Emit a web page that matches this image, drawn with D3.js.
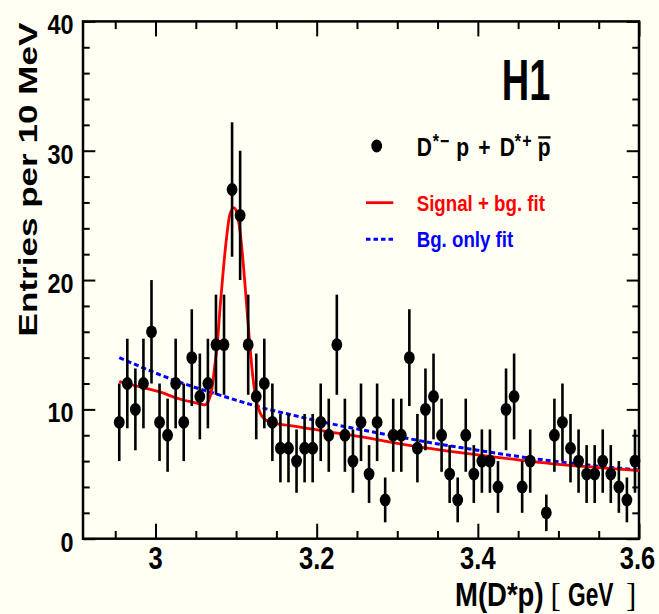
<!DOCTYPE html>
<html>
<head>
<meta charset="utf-8">
<script src="https://cdn.jsdelivr.net/npm/d3@7"></script>
<style>
body { margin: 0; background: #fffff3; }
</style>
</head>
<body>
<div id="canvas"></div>
<script>
"use strict"

// bin centres in GeV (10 MeV bins) and entries per bin
let binCentres = [2.955, 2.965, 2.975, 2.985, 2.995, 3.005, 3.015, 3.025, 3.035, 3.045,
    3.055, 3.065, 3.075, 3.085, 3.095, 3.105, 3.115, 3.125, 3.135, 3.145,
    3.155, 3.165, 3.175, 3.185, 3.195, 3.205, 3.215, 3.225, 3.235, 3.245,
    3.255, 3.265, 3.275, 3.285, 3.295, 3.305, 3.315, 3.325, 3.335, 3.345,
    3.355, 3.365, 3.375, 3.385, 3.395, 3.405, 3.415, 3.425, 3.435, 3.445,
    3.455, 3.465, 3.475, 3.485, 3.495, 3.505, 3.515, 3.525, 3.535, 3.545,
    3.555, 3.565, 3.575, 3.585, 3.595];
let entries = [9, 12, 10, 12, 16, 9, 8, 12, 9, 14,
    11, 12, 15, 15, 27, 25, 15, 11, 12, 9,
    7, 7, 6, 7, 7, 9, 8, 15, 8, 6,
    9, 5, 9, 3, 8, 8, 14, 7, 10, 11,
    8, 5, 3, 8, 5, 6, 6, 4, 10, 11,
    4, 6, 0, 2, 8, 9, 7, 6, 5, 5,
    6, 5, 4, 3, 6];

// signal + background fit (red)
let sigFitX = [2.955, 2.98, 3.005, 3.03, 3.05, 3.061, 3.066, 3.070, 3.073, 3.077,
    3.080, 3.084, 3.088, 3.092, 3.097, 3.101, 3.105, 3.109, 3.113, 3.117,
    3.121, 3.125, 3.130, 3.135, 3.145, 3.167, 3.213, 3.254, 3.317, 3.378,
    3.45, 3.5, 3.55, 3.6];
let sigFitY = [12.15, 11.75, 11.35, 10.8, 10.5, 10.35, 10.7, 11.6, 13.1, 15.3,
    17.8, 20.7, 23.2, 25.0, 25.6, 25.2, 23.7, 21.2, 18.1, 15.0,
    12.4, 10.7, 9.7, 9.25, 8.95, 8.75, 8.28, 7.89, 7.19, 6.65,
    6.1, 5.75, 5.5, 5.26];

// background only fit (blue dashed)
let bgFitX = [2.955, 3.03, 3.08, 3.128, 3.167, 3.213, 3.296, 3.353, 3.378, 3.478, 3.6];
let bgFitY = [14.0, 12.1, 11.1, 10.2, 9.6, 8.95, 7.95, 7.3, 7.05, 6.12, 5.3];

let xMajorTicks = [3.0, 3.2, 3.4, 3.6];
let xTickLabels = ["3", "3.2", "3.4", "3.6"];
let yMajorTicks = [0, 10, 20, 30, 40];
let yTickLabels = ["0", "10", "20", "30", "40"];

let legendLabels = ["Signal + bg. fit", "Bg. only fit"];

let W = 659, H = 614;
let font = "'Liberation Sans', Arial, sans-serif";
let serif = "'Liberation Serif', serif";

let drawing = d3.select("#canvas")
    .append("svg")
    .attr("width", W)
    .attr("height", H);

drawing.append("rect")
    .attr("width", W)
    .attr("height", H)
    .attr("fill", "#fffff3");

let x = d3.scaleLinear().domain([2.91, 3.6]).range([83, 639]);
let y = d3.scaleLinear().domain([0, 40]).range([538.7, 21.4]);

// minor + major ticks on all four sides, pointing inwards
let xMinor = d3.range(2.95, 3.6001, 0.05).filter(v => !xMajorTicks.some(m => Math.abs(m - v) < 1e-6));
let yMinor = d3.range(0, 40.001, 2).filter(v => v % 10 !== 0);

function tickAxis(axis, tx, ty) {
    let g = drawing.append("g")
        .attr("transform", "translate(" + tx + "," + ty + ")")
        .call(axis);
    g.select(".domain").remove();
    g.selectAll("text").remove();
    g.selectAll("line").attr("stroke", "black").attr("stroke-width", 2);
    return g;
}

tickAxis(d3.axisBottom(x).tickValues(xMinor).tickSize(-7.7), 0, y(0));
tickAxis(d3.axisBottom(x).tickValues(xMajorTicks).tickSize(-15), 0, y(0));
tickAxis(d3.axisTop(x).tickValues(xMinor).tickSize(-7.7), 0, y(40));
tickAxis(d3.axisTop(x).tickValues(xMajorTicks).tickSize(-15), 0, y(40));
tickAxis(d3.axisLeft(y).tickValues(yMinor).tickSize(-6.7), x(2.91), 0);
tickAxis(d3.axisLeft(y).tickValues(yMajorTicks).tickSize(-12.3), x(2.91), 0);
tickAxis(d3.axisRight(y).tickValues(yMinor).tickSize(-6.7), x(3.6), 0);
tickAxis(d3.axisRight(y).tickValues(yMajorTicks).tickSize(-12.3), x(3.6), 0);

// frame
drawing.append("rect")
    .attr("x", x(2.91))
    .attr("y", y(40))
    .attr("width", x(3.6) - x(2.91))
    .attr("height", y(0) - y(40))
    .attr("fill", "none")
    .attr("stroke", "black")
    .attr("stroke-width", 2.5);

// the original lettering is tall and narrow: draw at the width-matching size
// and stretch it vertically
function label(parent, txt, px, py, size, sy, anchor, colour, family, weight) {
    return parent.append("text")
        .attr("transform", "translate(" + px + "," + py + ") scale(1," + sy + ")")
        .attr("text-anchor", anchor || "start")
        .attr("fill", colour || "black")
        .attr("font-family", family || font)
        .attr("font-weight", weight || "bold")
        .attr("font-size", size)
        .text(txt);
}

// tick labels
xMajorTicks.forEach((v, i) => {
    label(drawing, xTickLabels[i], i === xMajorTicks.length - 1 ? x(v) - 1.5 : x(v), 569, 25.5, 1.22, "middle");
});
yMajorTicks.forEach((v, i) => {
    label(drawing, yTickLabels[i], 73.5, y(v) + 12.8, 23.4, 1.2, "end");
});

// x axis title, brackets in a thin serif face as in the original
label(drawing, "M(D*p)", 455, 606, 27.5, 1.2);
label(drawing, "[", 550.5, 606, 31, 1.08, "start", "black", serif, "normal");
label(drawing, "GeV", 568, 606, 22.75, 1.45);
label(drawing, "]", 626, 606, 31, 1.08, "start", "black", serif, "normal");

drawing.append("text")
    .attr("transform", "translate(36.7,22.7) rotate(-90) scale(1.37,1)")
    .attr("text-anchor", "end")
    .attr("font-family", font)
    .attr("font-weight", "bold")
    .attr("font-size", 25.6)
    .text("Entries per 10 MeV");

// fits
let fitLine = d3.line()
    .x(d => x(d[0]))
    .y(d => y(d[1]))
    .curve(d3.curveMonotoneX);

drawing.append("path")
    .attr("d", fitLine(bgFitX.map((v, i) => [v, bgFitY[i]])))
    .attr("fill", "none")
    .attr("stroke", "#0000ff")
    .attr("stroke-width", 3)
    .attr("stroke-dasharray", "5,3");

drawing.append("path")
    .attr("d", fitLine(sigFitX.map((v, i) => [v, sigFitY[i]])))
    .attr("fill", "none")
    .attr("stroke", "#ff0000")
    .attr("stroke-width", 2.8);

// data points with sqrt(N) error bars, empty bins are not drawn
let points = binCentres.map((v, i) => ({ m: v, n: entries[i] })).filter(d => d.n > 0);

drawing.selectAll(".err")
    .data(points)
    .enter().append("line")
    .attr("x1", d => x(d.m))
    .attr("x2", d => x(d.m))
    .attr("y1", d => y(d.n - Math.sqrt(d.n)))
    .attr("y2", d => y(d.n + Math.sqrt(d.n)))
    .attr("stroke", "black")
    .attr("stroke-width", 2.6);

drawing.selectAll(".pt")
    .data(points)
    .enter().append("ellipse")
    .attr("cx", d => x(d.m))
    .attr("cy", d => y(d.n))
    .attr("rx", 5.4)
    .attr("ry", 6.4)
    .attr("fill", "black");

// H1 logo and legend
label(drawing, "H1", 501.7, 100, 38, 1.53);

drawing.append("ellipse")
    .attr("cx", 376.7)
    .attr("cy", 146)
    .attr("rx", 5.4)
    .attr("ry", 6.4)
    .attr("fill", "black");

// D*- p + D*+ pbar, pieces placed along one baseline with superscripts
let dGroup = drawing.append("g")
    .attr("transform", "translate(416.7,156) scale(1,1.24)");
let dPieces = [
    { t: "D", dx: 0, sup: false },
    { t: "*", dx: 16, sup: true },
    { t: "\u2212", dx: 23.2, sup: true },
    { t: "p", dx: 39.5, sup: false },
    { t: "+", dx: 61.5, sup: false },
    { t: "D", dx: 83, sup: false },
    { t: "*", dx: 98, sup: true },
    { t: "+", dx: 105.5, sup: true },
    { t: "p", dx: 121, sup: false }
];
dPieces.forEach(p => label(dGroup, p.t, p.dx, p.sup ? -6.5 : 0, p.sup ? 16 : 21, 1));

// bar over the anti-proton p, placed from the laid out glyph
let lastPiece = dPieces[dPieces.length - 1];
let pNode = dGroup.selectAll("text").nodes()[dPieces.length - 1];
let pBox = pNode.getBBox();
dGroup.append("line")
    .attr("x1", lastPiece.dx + pBox.x + 0.5)
    .attr("x2", lastPiece.dx + pBox.x + pBox.width)
    .attr("y1", -15)
    .attr("y2", -15)
    .attr("stroke", "black")
    .attr("stroke-width", 1.9);

let legendColours = ["#ff0000", "#0000ff"];
let legendY = [202.7, 239.3];
let legendBase = [210.7, 246.7];

legendLabels.forEach((lab, i) => {
    drawing.append("line")
        .attr("x1", 366)
        .attr("x2", 393.3)
        .attr("y1", legendY[i])
        .attr("y2", legendY[i])
        .attr("stroke", legendColours[i])
        .attr("stroke-width", i === 0 ? 2.8 : 3)
        .attr("stroke-dasharray", i === 0 ? null : "4.5,3");
    label(drawing, lab, 416.7, legendBase[i], 18.7, 1.17, "start", legendColours[i]);
});
</script>
</body>
</html>
